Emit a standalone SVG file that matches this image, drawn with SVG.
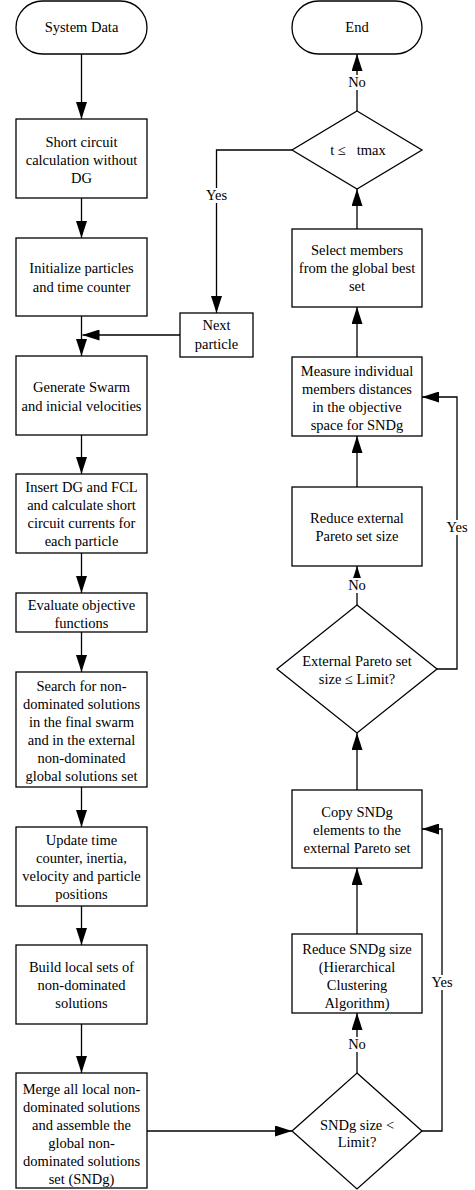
<svg xmlns="http://www.w3.org/2000/svg" width="475" height="1190" viewBox="0 0 475 1190">
<style>
.n{fill:#fff;stroke:#000;stroke-width:1.3}
.t{font-family:"Liberation Serif","Times New Roman",serif;font-size:14.5px;fill:#000;text-anchor:middle}
.c{fill:none;stroke:#000;stroke-width:1.3}
.bg{fill:#fff}
</style>
<defs>
<marker id="ah" markerUnits="userSpaceOnUse" markerWidth="17" markerHeight="11" refX="17" refY="5.5" orient="auto">
<path d="M0,0 L17,5.5 L0,11 z" fill="#000"/>
</marker>
</defs>
<rect width="475" height="1190" fill="#fff"/>
<g id="connectors">
<path class="c" d="M81.5,54 V119" marker-end="url(#ah)"/>
<path class="c" d="M81.5,198 V238" marker-end="url(#ah)"/>
<path class="c" d="M81.5,316 V356" marker-end="url(#ah)"/>
<path class="c" d="M180,335 H82.5" marker-end="url(#ah)"/>
<path class="c" d="M81.5,435 V474" marker-end="url(#ah)"/>
<path class="c" d="M81.5,553 V593" marker-end="url(#ah)"/>
<path class="c" d="M81.5,632 V672" marker-end="url(#ah)"/>
<path class="c" d="M81.5,787 V827" marker-end="url(#ah)"/>
<path class="c" d="M81.5,906 V945" marker-end="url(#ah)"/>
<path class="c" d="M81.5,1024 V1073" marker-end="url(#ah)"/>
<path class="c" d="M147,1131 H292" marker-end="url(#ah)"/>
<path class="c" d="M357,1073 V1013" marker-end="url(#ah)"/>
<path class="c" d="M422,1131 H442 V829 H422" marker-end="url(#ah)"/>
<path class="c" d="M357,934 V868" marker-end="url(#ah)"/>
<path class="c" d="M357,790 V733" marker-end="url(#ah)"/>
<path class="c" d="M357,605 V566" marker-end="url(#ah)"/>
<path class="c" d="M437,669 H457 V397 H422" marker-end="url(#ah)"/>
<path class="c" d="M357,487 V436" marker-end="url(#ah)"/>
<path class="c" d="M357,357 V307" marker-end="url(#ah)"/>
<path class="c" d="M357,229 V189" marker-end="url(#ah)"/>
<path class="c" d="M357,111 V54" marker-end="url(#ah)"/>
<path class="c" d="M292,150 H216.5 V313" marker-end="url(#ah)"/>
<rect class="bg" x="347" y="75" width="20" height="15"/>
<text class="t" x="357" y="87">No</text>
<rect class="bg" x="205" y="188" width="24" height="15"/>
<text class="t" x="216.5" y="200">Yes</text>
<rect class="bg" x="445" y="520" width="24" height="15"/>
<text class="t" x="457" y="532">Yes</text>
<rect class="bg" x="347" y="578" width="20" height="15"/>
<text class="t" x="357" y="590">No</text>
<rect class="bg" x="430" y="975" width="24" height="15"/>
<text class="t" x="442" y="987">Yes</text>
<rect class="bg" x="347" y="1037" width="20" height="15"/>
<text class="t" x="357" y="1049">No</text>
</g>
<g id="system-data">
<rect class="n" x="16" y="1" width="131" height="53" rx="26.5"/>
<text class="t" x="81.5" y="32">System Data</text>
</g>
<g id="short-circuit">
<rect class="n" x="16" y="119" width="131" height="79"/>
<text class="t" x="81.5" y="147">Short circuit</text>
<text class="t" x="81.5" y="165">calculation without</text>
<text class="t" x="81.5" y="183">DG</text>
</g>
<g id="initialize">
<rect class="n" x="16" y="238" width="131" height="78"/>
<text class="t" x="81.5" y="273">Initialize particles</text>
<text class="t" x="81.5" y="292">and time counter</text>
</g>
<g id="generate">
<rect class="n" x="16" y="356" width="131" height="79"/>
<text class="t" x="81.5" y="392">Generate Swarm</text>
<text class="t" x="81.5" y="411">and inicial velocities</text>
</g>
<g id="insert">
<rect class="n" x="16" y="474" width="131" height="79"/>
<text class="t" x="81.5" y="492">Insert DG and FCL</text>
<text class="t" x="81.5" y="510">and calculate short</text>
<text class="t" x="81.5" y="528">circuit currents for</text>
<text class="t" x="81.5" y="546">each particle</text>
</g>
<g id="evaluate">
<rect class="n" x="16" y="593" width="131" height="39"/>
<text class="t" x="81.5" y="610">Evaluate objective</text>
<text class="t" x="81.5" y="628">functions</text>
</g>
<g id="search">
<rect class="n" x="16" y="672" width="131" height="115"/>
<text class="t" x="81.5" y="691">Search for non-</text>
<text class="t" x="81.5" y="709">dominated solutions</text>
<text class="t" x="81.5" y="727">in the final swarm</text>
<text class="t" x="81.5" y="745">and in the external</text>
<text class="t" x="81.5" y="763">non-dominated</text>
<text class="t" x="81.5" y="781">global solutions set</text>
</g>
<g id="update">
<rect class="n" x="16" y="827" width="131" height="79"/>
<text class="t" x="81.5" y="845">Update time</text>
<text class="t" x="81.5" y="863">counter, inertia,</text>
<text class="t" x="81.5" y="881">velocity and particle</text>
<text class="t" x="81.5" y="899">positions</text>
</g>
<g id="build">
<rect class="n" x="16" y="945" width="131" height="79"/>
<text class="t" x="81.5" y="972">Build local sets of</text>
<text class="t" x="81.5" y="990">non-dominated</text>
<text class="t" x="81.5" y="1008">solutions</text>
</g>
<g id="merge">
<rect class="n" x="16" y="1073" width="131" height="115"/>
<text class="t" x="81.5" y="1094">Merge all local non-</text>
<text class="t" x="81.5" y="1112">dominated solutions</text>
<text class="t" x="81.5" y="1130">and assemble the</text>
<text class="t" x="81.5" y="1148">global non-</text>
<text class="t" x="81.5" y="1166">dominated solutions</text>
<text class="t" x="81.5" y="1184">set (SNDg)</text>
</g>
<g id="next-particle">
<rect class="n" x="180" y="313" width="73" height="44"/>
<text class="t" x="216.5" y="330">Next</text>
<text class="t" x="216.5" y="349">particle</text>
</g>
<g id="end">
<rect class="n" x="292" y="1" width="130" height="53" rx="26.5"/>
<text class="t" x="357" y="32">End</text>
</g>
<g id="t-tmax">
<path class="n" d="M357,111 L422,150 L357,189 L292,150 z"/>
<text class="t" x="358" y="155" style="white-space:pre" xml:space="preserve">t ≤   tmax</text>
</g>
<g id="select">
<rect class="n" x="292" y="229" width="130" height="78"/>
<text class="t" x="357" y="255">Select members</text>
<text class="t" x="357" y="273">from the global best</text>
<text class="t" x="357" y="291">set</text>
</g>
<g id="measure">
<rect class="n" x="292" y="357" width="130" height="79"/>
<text class="t" x="357" y="376">Measure individual</text>
<text class="t" x="357" y="394">members distances</text>
<text class="t" x="357" y="412">in the objective</text>
<text class="t" x="357" y="430">space for SNDg</text>
</g>
<g id="reduce-external">
<rect class="n" x="292" y="487" width="130" height="79"/>
<text class="t" x="357" y="523">Reduce external</text>
<text class="t" x="357" y="541">Pareto set size</text>
</g>
<g id="pareto-limit">
<path class="n" d="M357,605 L437,669 L357,733 L277,669 z"/>
<text class="t" x="357" y="666">External Pareto set</text>
<text class="t" x="357" y="684">size ≤ Limit?</text>
</g>
<g id="copy">
<rect class="n" x="292" y="790" width="130" height="78"/>
<text class="t" x="357" y="817">Copy SNDg</text>
<text class="t" x="357" y="835">elements to the</text>
<text class="t" x="357" y="853">external Pareto set</text>
</g>
<g id="reduce-sndg">
<rect class="n" x="292" y="934" width="130" height="79"/>
<text class="t" x="357" y="954">Reduce SNDg size</text>
<text class="t" x="357" y="972">(Hierarchical</text>
<text class="t" x="357" y="990">Clustering</text>
<text class="t" x="357" y="1008">Algorithm)</text>
</g>
<g id="sndg-limit">
<path class="n" d="M357,1073 L422,1131 L357,1189 L292,1131 z"/>
<text class="t" x="357" y="1130">SNDg size &lt;</text>
<text class="t" x="357" y="1147">Limit?</text>
</g>
</svg>
